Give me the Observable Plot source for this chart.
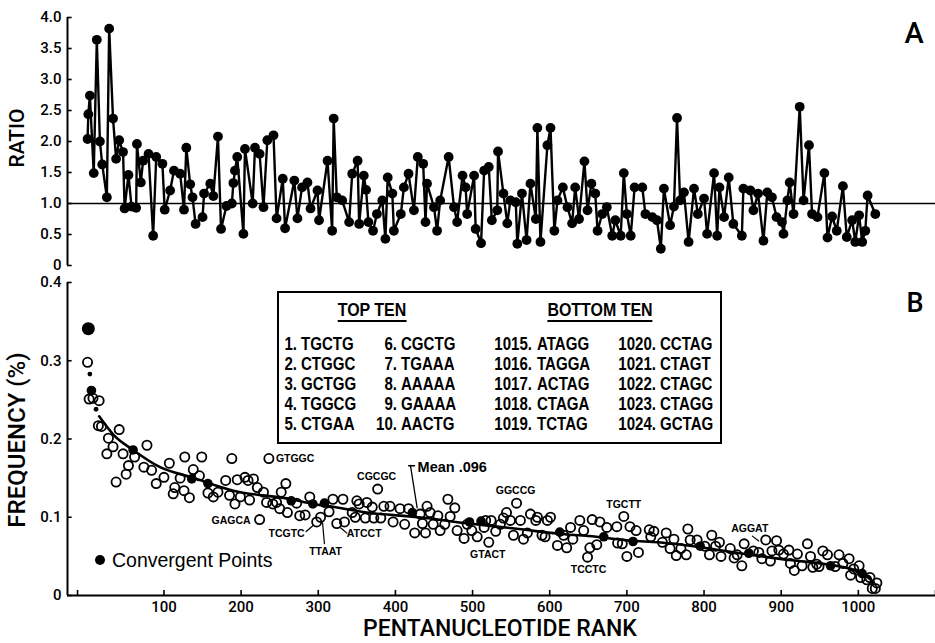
<!DOCTYPE html>
<html><head><meta charset="utf-8">
<script src="https://cdn.jsdelivr.net/npm/d3@7"></script>
<script src="https://cdn.jsdelivr.net/npm/@observablehq/plot@0.6"></script>
<style>
body{margin:0;background:#fff;}
#wrap{position:relative;width:935px;height:643px;overflow:hidden;background:#fff;}
.t{position:absolute;white-space:nowrap;line-height:1;color:#000;}
</style></head><body><div id="wrap"></div>
<script>
// ---------- Panel A: ratio by rank ----------
const ratioRank = [
  1,2,4,9,13,17,20,26,29,34, 38,42,47,49,54,58,64,65,70,73,
  80,86,90,98,101,108,113,121,126,129, 134,137,141,150,152,160,164,170,174,181,
  188,190,192,195,203,205,215,218,224,229, 234,242,246,254,257,269,273,279,286,290,
  299,301,312,318,320,324,331,340,344,351, 353,359,362,365,371,376,383,387,390,396,
  398,407,411,417,424,429,436,439,441,450, 454,458,469,476,480,487,491,493,502,504,
  511,515,521,525,532,533,540,545,549,556, 558,564,570,575,582,584,588,597,601,606,
  610,617,623,629,633,638,645,649,654,659, 662,668,674,681,685,692,696,700,705,710,
  720,724,733,739,744,748,756,761,765,769, 774,780,787,792,800,804,813,817,820,826,
  832,838,849,851,860,864,870,877,882,888, 894,901,903,908,911,916,924,929,936,940,
  947,956,960,966,972,980,985,992,996,1001, 1005,1009,1012,1022];
const ratioValue = [
  2.04,2.44,2.74,1.49,3.64,2.00,1.63,1.10,3.82,2.37, 1.72,2.02,1.83,0.92,1.46,0.95,0.93,1.96,1.34,1.69,
  1.80,0.48,1.75,1.64,0.90,1.21,1.53,1.48,0.90,1.90, 1.31,1.10,0.67,0.78,1.16,1.32,1.12,2.08,0.59,0.96,
  1.00,1.33,1.53,1.75,0.51,1.88,1.00,1.90,1.80,0.94, 2.02,2.10,0.76,1.40,0.60,1.37,0.76,1.26,1.34,0.92,
  1.21,0.73,1.69,0.56,2.37,1.10,1.05,0.70,1.48,1.69, 0.67,1.45,1.22,0.70,0.56,0.83,1.05,0.43,1.42,1.16,
  0.56,0.83,1.26,1.48,0.89,1.75,1.64,0.70,1.32,0.94, 0.56,1.05,1.75,0.94,0.70,1.45,1.26,0.83,1.45,0.59,
  0.36,1.53,1.59,0.73,0.89,1.84,1.16,0.68,1.05,1.02, 0.35,1.16,0.41,1.32,0.75,2.22,0.38,1.94,2.22,0.56,
  1.05,1.26,0.94,0.68,1.26,0.75,1.68,0.89,1.32,1.16, 0.56,0.83,0.94,0.48,0.73,0.48,1.49,0.83,0.48,1.26,
  1.26,0.83,0.78,0.73,0.27,1.24,0.65,0.95,2.38,1.05, 1.18,0.38,1.24,0.83,1.08,0.51,1.49,0.48,1.26,0.78,
  1.42,0.67,0.48,1.24,1.21,0.89,1.16,0.40,1.18,1.10, 0.78,0.70,0.51,1.05,1.34,0.83,2.56,1.05,1.94,0.83,
  0.78,1.49,0.45,0.79,0.56,1.28,0.46,0.73,0.38,0.81, 0.38,0.56,1.13,0.83];
const ratioTicks = [0, 0.5, 1, 1.5, 2, 2.5, 3, 3.5, 4];
const ratioReference = 1;

// ---------- Panel B: frequency by rank ----------
const freqRank = [
  1,3,8,15,16,19,26,28,34,38, 42,47,51,54,62,74,78,84,90,100,
  107,112,114,121,126,127,133,138,146,149, 157,164,170,180,185,188,192,195,199,205,
  209,211,216,221,224,229,233,236,241,246, 250,252,258,260,272,276,283,289,298,303,
  314,319,324,332,334,344,348,350,353,361, 363,370,372,377,381,385,393,397,406,412,
  417,425,432,435,439,441,445,449,455,458, 464,468,471,477,480,489,493,499,506,515,
  517,521,524,530,536,540,544,549,553,557, 562,566,571,575,582,584,590,594,597,601,
  610,618,622,627,630,639,644,649,652,655, 661,665,674,687,688,694,696,700,704,712,
  715,729,731,735,746,751,756,761,764,770, 777,779,782,791,801,807,810,815,820,822,
  834,839,843,849,852,864,871,875,880,886, 888,894,897,903,910,912,917,921,927,934,
  938,941,946,949,954,960,970,975,980,988, 990,994,1001,1003,1011,1015,1018,1022,1024];
const freqValue = [
  0.298,0.251,0.252,0.217,0.249,0.216,0.181,0.201,0.190,0.145, 0.212,0.181,0.155,0.166,0.177,0.164,0.192,0.160,0.143,0.151,
  0.169,0.130,0.138,0.150,0.134,0.177,0.125,0.161,0.153,0.177, 0.131,0.126,0.132,0.147,0.128,0.175,0.117,0.148,0.126,0.151,
  0.147,0.122,0.149,0.138,0.097,0.132,0.119,0.175,0.117,0.119, 0.111,0.132,0.143,0.106,0.118,0.102,0.103,0.126,0.094,0.100,
  0.107,0.123,0.092,0.123,0.094,0.106,0.100,0.121,0.117,0.099, 0.119,0.113,0.099,0.136,0.099,0.114,0.114,0.094,0.111,0.091,
  0.111,0.080,0.104,0.092,0.080,0.114,0.106,0.091,0.102,0.083, 0.091,0.123,0.101,0.112,0.083,0.073,0.091,0.083,0.075,0.087,
  0.096,0.068,0.096,0.082,0.091,0.099,0.106,0.096,0.077,0.118, 0.096,0.072,0.080,0.104,0.096,0.100,0.077,0.075,0.096,0.100,
  0.064,0.077,0.061,0.087,0.072,0.096,0.083,0.049,0.061,0.097, 0.065,0.094,0.087,0.088,0.067,0.066,0.101,0.050,0.088,0.083,
  0.055,0.084,0.075,0.082,0.068,0.080,0.060,0.072,0.051,0.060, 0.052,0.085,0.071,0.071,0.063,0.052,0.077,0.063,0.068,0.050,
  0.060,0.048,0.052,0.038,0.066,0.057,0.055,0.047,0.071,0.044, 0.057,0.070,0.058,0.053,0.058,0.041,0.032,0.053,0.038,0.066,
  0.050,0.036,0.040,0.037,0.057,0.052,0.037,0.052,0.041,0.047, 0.026,0.034,0.038,0.023,0.020,0.023,0.009,0.009,0.016];

const convergentRank = [2,4,6,12,60,136,157,265,293,308,422,496,511,613,670,708,795,858,964,1005];
const convergentFreq = [0.341,0.283,0.262,0.238,0.186,0.149,0.143,0.121,0.117,0.118,0.106,0.094,0.095,0.081,0.075,0.069,0.063,0.054,0.038,0.028];

const curveRank = [16,35,60,95,136,190,265,293,315,363,430,495,560,611,650,706,741,793,854,914,958,1002,1020];
const curveFreq = [0.229,0.205,0.186,0.164,0.151,0.134,0.123,0.117,0.114,0.106,0.100,0.092,0.085,0.079,0.076,0.070,0.068,0.062,0.053,0.045,0.040,0.030,0.017];

const outlierName = ["GTGGC","GAGCA","TCGTC","TTAAT","ATCCT","CGCGC","GTACT","GGCCG","TCCTC","TGCTT","AGGAT"];
const outlierRank = [236,224,298,303,324,377,521,557,649,696,880];
const outlierFreq = [0.175,0.097,0.094,0.100,0.092,0.136,0.068,0.118,0.049,0.101,0.071];
const meanLabel = "Mean .096";

const freqTicks = [0, 0.1, 0.2, 0.3, 0.4];
const rankTicks = [100,200,300,400,500,600,700,800,900,1000];
const rankEndTicks = [-12, 1100];

const topTenRank = [1,2,3,4,5,6,7,8,9,10];
const topTenSeq = ["TGCTG","CTGGC","GCTGG","TGGCG","CTGAA","CGCTG","TGAAA","AAAAA","GAAAA","AACTG"];
const bottomTenRank = [1015,1016,1017,1018,1019,1020,1021,1022,1023,1024];
const bottomTenSeq = ["ATAGG","TAGGA","ACTAG","CTAGA","TCTAG","CCTAG","CTAGT","CTAGC","CTAGG","GCTAG"];

// ---------- build ----------
const wrap = document.getElementById("wrap");
const xDomain = [-25, 1100];
const ratioData = ratioRank.map((r, i) => ({rank: r, ratio: ratioValue[i]}));
const freqData = freqRank.map((r, i) => ({rank: r, freq: freqValue[i]}));
const convData = convergentRank.map((r, i) => ({rank: r, freq: convergentFreq[i], i}));
const curveData = curveRank.map((r, i) => ({rank: r, freq: curveFreq[i]}));
const notes = outlierName.map((n, i) => ({name: n, rank: outlierRank[i], freq: outlierFreq[i]}));

const baseStyle = {fontFamily: "Roboto", fontSize: "15px", fontWeight: "500", background: "transparent", overflow: "visible"};
const fmt1 = d => d === 0 ? "0" : d.toFixed(1);

const plotA = Plot.plot({
  width: 935, height: 275,
  marginLeft: 67, marginRight: 0, marginTop: 17, marginBottom: 10,
  x: {domain: xDomain, axis: null},
  y: {domain: [0, 4]},
  style: baseStyle,
  marks: [
    Plot.ruleY([ratioReference], {stroke: "black", strokeWidth: 1.6}),
    Plot.ruleX([xDomain[0]], {stroke: "black", strokeWidth: 2}),
    Plot.ruleY(ratioTicks, {x1: xDomain[0], x2: xDomain[0] + 6, stroke: "black", strokeWidth: 1.6}),
    Plot.axisY(ratioTicks, {tickSize: 0, tickPadding: 6, tickFormat: fmt1, label: null}),
    Plot.line(ratioData, {x: "rank", y: "ratio", stroke: "black", strokeWidth: 2.4}),
    Plot.dot(ratioData, {x: "rank", y: "ratio", r: 4.9, fill: "black"})
  ]
});

const line = {draw(context, l) { context.moveTo(0, 0); context.lineTo(0, -l); }};
const noteStyle = {
  GTGGC: {anchor: "start", dx: 7, dy: 0},
  GAGCA: {anchor: "end", dx: -9, dy: 1},
  TCGTC: {anchor: "end", dx: -12, dy: 12, leader: [-3, 3, 229, 10]},
  TTAAT: {anchor: "middle", dx: 5, dy: 34, leader: [2, 5.5, 175, 21]},
  ATCCT: {anchor: "start", dx: 10, dy: 10, leader: [4, 4.5, 130, 8]},
  CGCGC: {anchor: "middle", dx: -1, dy: -12},
  GTACT: {anchor: "middle", dx: -1, dy: 12},
  GGCCG: {anchor: "middle", dx: -1, dy: -13},
  TCCTC: {anchor: "middle", dx: 1, dy: 12},
  TGCTT: {anchor: "middle", dx: 0, dy: -12},
  AGGAT: {anchor: "middle", dx: -16, dy: -11, leader: [-7, 1, 307, 8]}
};
const noteMarks = [];
for (const n of notes) {
  const s = noteStyle[n.name];
  noteMarks.push(Plot.text([n], {x: "rank", y: "freq", text: "name", textAnchor: s.anchor, dx: s.dx, dy: s.dy,
    fontFamily: "Liberation Sans", fontWeight: "bold", fontSize: 10.5, fill: "black"}));
  if (s.leader) {
    const [ldx, ldy, rot, len] = s.leader;
    noteMarks.push(Plot.vector([n], {x: "rank", y: "freq", dx: ldx, dy: ldy, rotate: rot, length: len,
      anchor: "start", shape: line, r: 0, stroke: "black", strokeWidth: 1.2}));
  }
}
const meanAnchor = [curveData[10]];
noteMarks.push(
  Plot.text(meanAnchor, {x: "rank", y: "freq", text: () => meanLabel, textAnchor: "start", dx: -1, dy: -50,
    fontFamily: "Liberation Sans", fontWeight: "bold", fontSize: 14.5, fill: "black"}),
  Plot.vector(meanAnchor, {x: "rank", y: "freq", dx: -1.4, dy: -9.4, rotate: -9, length: 43,
    anchor: "start", shape: line, r: 0, stroke: "black", strokeWidth: 1.3}),
  Plot.vector(meanAnchor, {x: "rank", y: "freq", dx: -10, dy: -51.5, rotate: 90, length: 6,
    anchor: "start", shape: line, r: 0, stroke: "black", strokeWidth: 1.3})
);

const plotB = Plot.plot({
  width: 935, height: 368,
  marginLeft: 67, marginRight: 0, marginTop: 7, marginBottom: 48,
  x: {domain: xDomain},
  y: {domain: [0, 0.4]},
  style: baseStyle,
  marks: [
    Plot.ruleX([xDomain[0]], {stroke: "black", strokeWidth: 2}),
    Plot.ruleY([0], {stroke: "black", strokeWidth: 2}),
    Plot.ruleY(freqTicks, {x1: xDomain[0], x2: xDomain[0] + 6, stroke: "black", strokeWidth: 1.6}),
    Plot.ruleX(rankTicks.concat(rankEndTicks), {y1: 0, y2: 0.0065, stroke: "black", strokeWidth: 1.6}),
    Plot.axisY(freqTicks, {tickSize: 0, tickPadding: 6, tickFormat: fmt1, label: null}),
    Plot.axisX(rankTicks, {tickSize: 0, tickPadding: 6, tickFormat: d => String(d), label: null}),
    Plot.line(curveData, {x: "rank", y: "freq", curve: "monotone-x", stroke: "black", strokeWidth: 2.6}),
    Plot.dot(freqData, {x: "rank", y: "freq", r: 4.6, stroke: "black", strokeWidth: 1.8, fill: "none"}),
    Plot.dot(convData, {x: "rank", y: "freq", filter: d => d.i === 0, r: 6.5, fill: "black"}),
    Plot.dot(convData, {x: "rank", y: "freq", filter: d => d.i === 1 || d.i === 3, r: 2.4, fill: "black"}),
    Plot.dot(convData, {x: "rank", y: "freq", filter: d => d.i > 3 || d.i === 2, r: 4.8, fill: "black"}),
    ...noteMarks
  ]
});

plotA.style.position = "absolute"; plotA.style.left = "0px"; plotA.style.top = "0px";
plotB.style.position = "absolute"; plotB.style.left = "0px"; plotB.style.top = "275px";
wrap.appendChild(plotA);
wrap.appendChild(plotB);

// ---------- text overlays ----------
function label(text, x, y, o = {}) {
  const s = document.createElement("div");
  s.className = "t";
  s.textContent = text;
  s.style.left = x + "px"; s.style.top = y + "px";
  s.style.fontFamily = o.family || "Roboto";
  s.style.fontSize = (o.size || 16) + "px";
  s.style.fontWeight = o.weight || 400;
  const a = o.anchor || "start";
  const tx = a === "start" ? "0" : a === "middle" ? "-50%" : "-100%";
  s.style.transformOrigin = a === "start" ? "left center" : a === "middle" ? "center center" : "right center";
  s.style.transform = `translate(${tx}, -50%)` + (o.rotate ? ` rotate(${o.rotate}deg)` : "") + ` scaleX(${o.sx || 1})`;
  if (o.underline) { s.style.borderBottom = "2px solid #000"; s.style.paddingBottom = "1px"; }
  wrap.appendChild(s);
  return s;
}

label("RATIO", 17, 138, {size: 21, weight: 500, anchor: "middle", rotate: -90});
label("FREQUENCY (%)", 17, 440, {size: 24, weight: 500, anchor: "middle", rotate: -90});
label("PENTANUCLEOTIDE RANK", 500, 628, {size: 23, weight: 500, anchor: "middle"});
label("A", 914, 33, {size: 29, weight: 500, anchor: "middle"});
label("B", 915, 303, {size: 27, weight: 500, anchor: "middle"});

// table box
const box = document.createElement("div");
Object.assign(box.style, {position: "absolute", left: "277px", top: "291px", width: "445px", height: "153px",
  border: "2px solid #000", boxSizing: "border-box", background: "#fff"});
wrap.appendChild(box);
const tf = {family: "Liberation Sans", weight: 700};
label("TOP TEN", 372, 311, {...tf, size: 19, sx: 0.84, anchor: "middle", underline: true});
label("BOTTOM TEN", 600, 311, {...tf, size: 19, sx: 0.84, anchor: "middle", underline: true});
const rowY = [345, 365, 385, 405, 425];
const cols = [[297, 301], [397, 401], [532, 537], [656, 660]];
function tableCol(ranks, seqs, colA, colB) {
  ranks.forEach((r, i) => {
    const c = i < 5 ? colA : colB;
    const y = rowY[i % 5];
    label(r + ".", c[0], y, {...tf, size: 17.5, sx: 0.86, anchor: "end"});
    label(seqs[i], c[1], y, {...tf, size: 17.5, sx: 0.86, anchor: "start"});
  });
}
tableCol(topTenRank, topTenSeq, cols[0], cols[1]);
tableCol(bottomTenRank, bottomTenSeq, cols[2], cols[3]);

// legend
const ld = document.createElement("div");
Object.assign(ld.style, {position: "absolute", left: "95px", top: "555px", width: "10px", height: "10px",
  borderRadius: "50%", background: "#000"});
wrap.appendChild(ld);
label("Convergent Points", 112, 561, {family: "Liberation Sans", size: 19.5, weight: 400});
</script></body></html>
